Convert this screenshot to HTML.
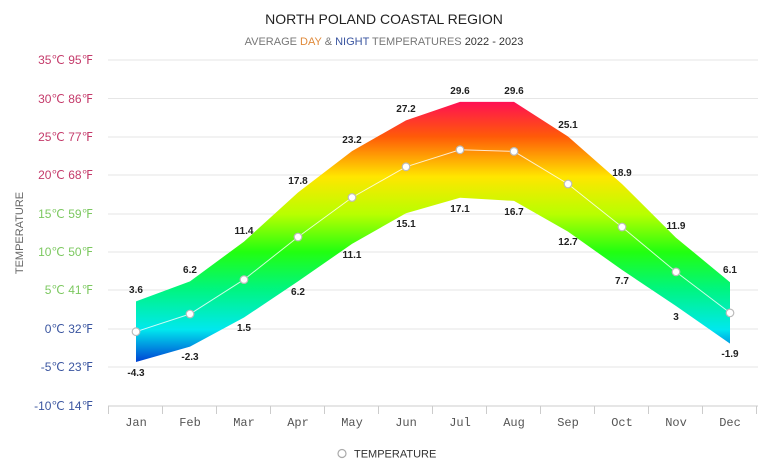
<!DOCTYPE html>
<html><head><meta charset="utf-8"><style>
body{margin:0;background:#fff;}
svg{display:block;font-family:"Liberation Sans",sans-serif;}
</style></head><body>
<svg width="768" height="463" viewBox="0 0 768 463">
<defs>
<linearGradient id="g" gradientUnits="userSpaceOnUse" x1="0" y1="99" x2="0" y2="367">
<stop offset="0" stop-color="#ff0a5a"/>
<stop offset="0.14" stop-color="#ff5a08"/>
<stop offset="0.29" stop-color="#ffe600"/>
<stop offset="0.43" stop-color="#b8ff00"/>
<stop offset="0.57" stop-color="#22ff10"/>
<stop offset="0.71" stop-color="#00f580"/>
<stop offset="0.86" stop-color="#00e8ee"/>
<stop offset="1" stop-color="#0028d0"/>
</linearGradient>
</defs>
<text x="384" y="24" text-anchor="middle" font-size="14" fill="#222">NORTH POLAND COASTAL REGION</text>
<text x="384" y="45" text-anchor="middle" font-size="11" fill="#777">AVERAGE <tspan fill="#e08a3a">DAY</tspan> &amp; <tspan fill="#3a55a0">NIGHT</tspan> TEMPERATURES  <tspan fill="#333">2022 - 2023</tspan></text>
<g stroke="#e6e6e6" stroke-width="1">
<line x1="108" x2="758" y1="60" y2="60"/><line x1="108" x2="758" y1="98.5" y2="98.5"/><line x1="108" x2="758" y1="137" y2="137"/><line x1="108" x2="758" y1="175" y2="175"/><line x1="108" x2="758" y1="214" y2="214"/><line x1="108" x2="758" y1="252" y2="252"/><line x1="108" x2="758" y1="290" y2="290"/><line x1="108" x2="758" y1="329" y2="329"/><line x1="108" x2="758" y1="367" y2="367"/>
</g>
<g stroke="#ccc"><line x1="108" x2="758" y1="406" y2="406"/>
<line x1="108.5" x2="108.5" y1="406" y2="414"/><line x1="162.5" x2="162.5" y1="406" y2="414"/><line x1="216.5" x2="216.5" y1="406" y2="414"/><line x1="270.5" x2="270.5" y1="406" y2="414"/><line x1="324.5" x2="324.5" y1="406" y2="414"/><line x1="378.5" x2="378.5" y1="406" y2="414"/><line x1="432.5" x2="432.5" y1="406" y2="414"/><line x1="486.5" x2="486.5" y1="406" y2="414"/><line x1="540.5" x2="540.5" y1="406" y2="414"/><line x1="594.5" x2="594.5" y1="406" y2="414"/><line x1="648.5" x2="648.5" y1="406" y2="414"/><line x1="702.5" x2="702.5" y1="406" y2="414"/><line x1="756.5" x2="756.5" y1="406" y2="414"/></g>
<g font-size="12" text-anchor="end">
<text x="93" y="64" fill="#c43a6a">35℃ 95℉</text>
<text x="93" y="103" fill="#c43a6a">30℃ 86℉</text>
<text x="93" y="141" fill="#c43a6a">25℃ 77℉</text>
<text x="93" y="179" fill="#c43a6a">20℃ 68℉</text>
<text x="93" y="218" fill="#7cc860">15℃ 59℉</text>
<text x="93" y="256" fill="#7cc860">10℃ 50℉</text>
<text x="93" y="294" fill="#7cc860">5℃ 41℉</text>
<text x="93" y="333" fill="#3a55a0">0℃ 32℉</text>
<text x="93" y="371" fill="#3a55a0">-5℃ 23℉</text>
<text x="93" y="410" fill="#3a55a0">-10℃ 14℉</text>
</g>
<text transform="translate(23,233) rotate(-90)" text-anchor="middle" font-size="11" fill="#666">TEMPERATURE</text>
<g font-family="Liberation Mono,monospace" font-size="12" fill="#555" text-anchor="middle">
<text x="136" y="426">Jan</text><text x="190" y="426">Feb</text><text x="244" y="426">Mar</text><text x="298" y="426">Apr</text><text x="352" y="426">May</text><text x="406" y="426">Jun</text><text x="460" y="426">Jul</text><text x="514" y="426">Aug</text><text x="568" y="426">Sep</text><text x="622" y="426">Oct</text><text x="676" y="426">Nov</text><text x="730" y="426">Dec</text>
</g>
<path fill="url(#g)" d="M136,301.4 L190,281.4 L244,241.6 L298,192.5 L352,151.1 L406,120.4 L460,101.9 L514,101.9 L568,136.5 L622,184.0 L676,237.7 L730,282.2 L730,343.6 L676,306.0 L622,269.9 L568,231.6 L514,200.9 L460,197.8 L406,213.2 L352,243.9 L298,281.4 L244,317.5 L190,346.6 L136,362.0 Z"/>
<polyline fill="none" stroke="#fff" stroke-opacity="0.8" stroke-width="1" points="136,331.7 190,314.0 244,279.6 298,237.0 352,197.5 406,166.8 460,149.8 514,151.4 568,184.0 622,227.0 676,271.9 730,312.9"/>
<g fill="#fff" stroke="#bbb" stroke-width="1.2">
<circle cx="136" cy="331.7" r="3.8"/><circle cx="190" cy="314.0" r="3.8"/><circle cx="244" cy="279.6" r="3.8"/><circle cx="298" cy="237.0" r="3.8"/><circle cx="352" cy="197.5" r="3.8"/><circle cx="406" cy="166.8" r="3.8"/><circle cx="460" cy="149.8" r="3.8"/><circle cx="514" cy="151.4" r="3.8"/><circle cx="568" cy="184.0" r="3.8"/><circle cx="622" cy="227.0" r="3.8"/><circle cx="676" cy="271.9" r="3.8"/><circle cx="730" cy="312.9" r="3.8"/>
</g>
<g font-size="10" font-weight="bold" fill="#222" text-anchor="middle">
<text x="136" y="293">3.6</text><text x="190" y="273">6.2</text><text x="244" y="234">11.4</text><text x="298" y="184">17.8</text><text x="352" y="143">23.2</text><text x="406" y="112">27.2</text><text x="460" y="94">29.6</text><text x="514" y="94">29.6</text><text x="568" y="128">25.1</text><text x="622" y="176">18.9</text><text x="676" y="229">11.9</text><text x="730" y="273">6.1</text>
<text x="136" y="376">-4.3</text><text x="190" y="360">-2.3</text><text x="244" y="331">1.5</text><text x="298" y="295">6.2</text><text x="352" y="258">11.1</text><text x="406" y="227">15.1</text><text x="460" y="212">17.1</text><text x="514" y="215">16.7</text><text x="568" y="245">12.7</text><text x="622" y="284">7.7</text><text x="676" y="320">3</text><text x="730" y="357">-1.9</text>
</g>
<circle cx="342" cy="453.5" r="4" fill="#fff" stroke="#aaa" stroke-width="1.2"/>
<text x="354" y="457.5" font-size="11" fill="#333">TEMPERATURE</text>
</svg>
</body></html>
